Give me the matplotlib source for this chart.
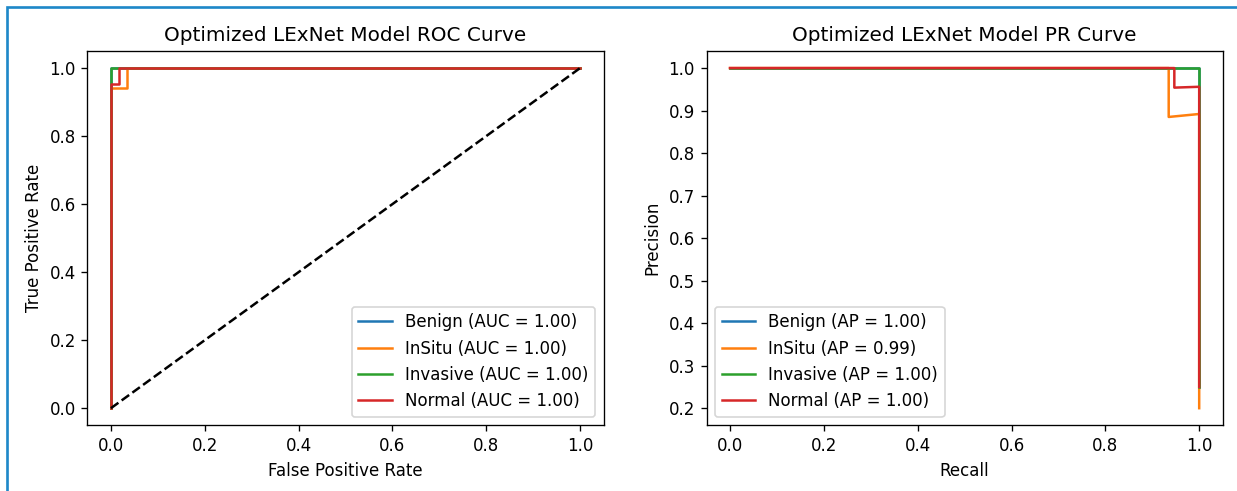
import matplotlib
matplotlib.use("Agg")
import matplotlib.pyplot as plt
from matplotlib.patches import Rectangle

classes = ["Benign", "InSitu", "Invasive", "Normal"]
colors = ["#1f77b4", "#ff7f0e", "#2ca02c", "#d62728"]

# ROC curves (fpr, tpr) per class
roc_fpr = [
    [0.0, 0.0, 1.0],
    [0.0, 0.0, 0.034, 0.034, 1.0],
    [0.0, 0.0, 1.0],
    [0.0, 0.0, 0.018, 0.018, 1.0],
]
roc_tpr = [
    [0.0, 1.0, 1.0],
    [0.0, 0.94, 0.94, 1.0, 1.0],
    [0.0, 1.0, 1.0],
    [0.0, 0.954, 0.954, 1.0, 1.0],
]
auc_vals = [1.00, 1.00, 1.00, 1.00]

# PR curves (recall, precision) per class
pr_recall = [
    [0.0, 1.0, 1.0],
    [0.0, 0.935, 0.935, 1.0, 1.0],
    [0.0, 1.0, 1.0],
    [0.0, 0.947, 0.947, 1.0, 1.0],
]
pr_precision = [
    [1.0, 1.0, 0.25],
    [1.0, 1.0, 0.885, 0.892, 0.20],
    [1.0, 1.0, 0.25],
    [1.0, 1.0, 0.954, 0.956, 0.25],
]
ap_vals = [1.00, 0.99, 1.00, 1.00]

# screenshot is a ~1.2x scaled default figure, so render at 120 dpi
fig = plt.figure(figsize=(1237 / 120, 491 / 120), dpi=120)
ax1 = fig.add_axes([0.0707, 0.134, 0.4172, 0.762])
ax2 = fig.add_axes([0.5712, 0.134, 0.4172, 0.762])

for i, name in enumerate(classes):
    ax1.plot(roc_fpr[i], roc_tpr[i], color=colors[i],
             label=f"{name} (AUC = {auc_vals[i]:.2f})")
ax1.plot([0, 1], [0, 1], "k--")
ax1.set_title("Optimized LExNet Model ROC Curve")
ax1.set_xlabel("False Positive Rate")
ax1.set_ylabel("True Positive Rate")
ax1.legend(loc="lower right")

for i, name in enumerate(classes):
    ax2.plot(pr_recall[i], pr_precision[i], color=colors[i],
             label=f"{name} (AP = {ap_vals[i]:.2f})")
ax2.set_title("Optimized LExNet Model PR Curve")
ax2.set_xlabel("Recall")
ax2.set_ylabel("Precision")
ax2.legend(loc="lower left")

# blue frame around the screenshot (left and top edges)
fig.patches.append(Rectangle((7 / 1237, -0.1), 1.2, 1 - 7 / 491 + 0.1,
                             transform=fig.transFigure, fill=False,
                             edgecolor="#1e88c8", linewidth=1.6))

fig.savefig("out.png", dpi=120)
